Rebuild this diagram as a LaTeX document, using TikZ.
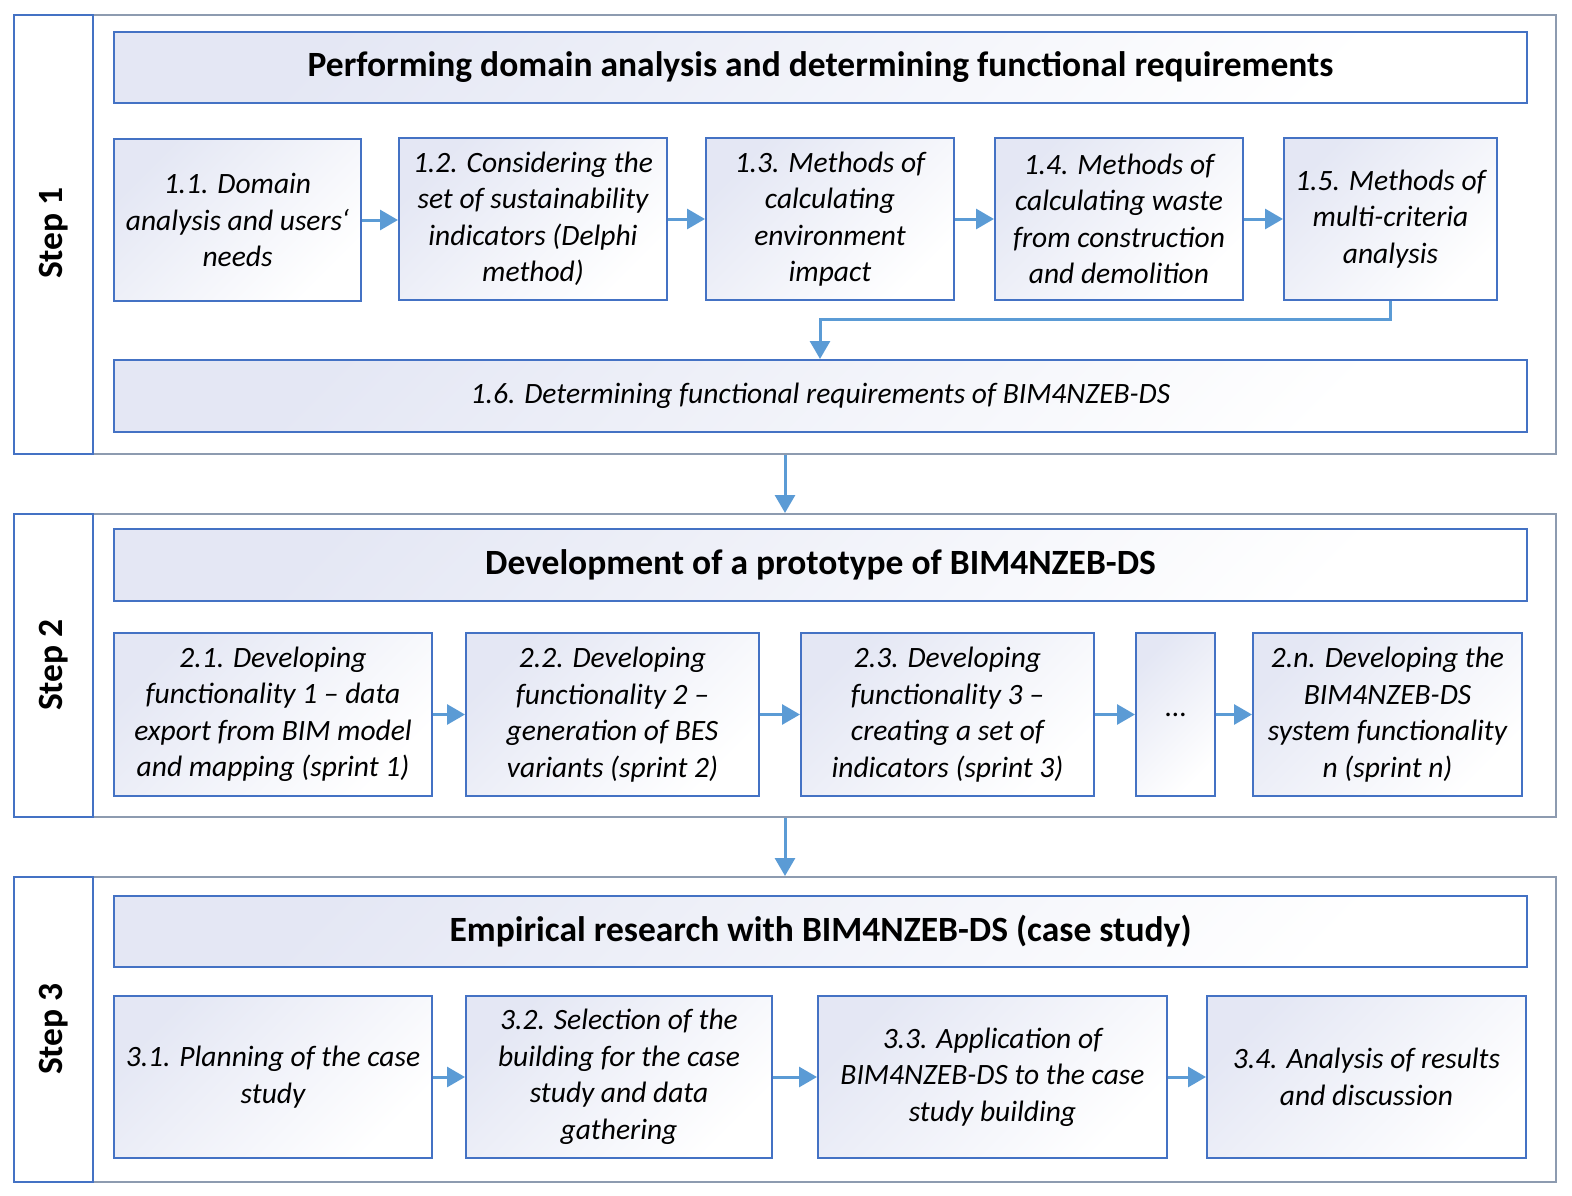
\documentclass[tikz,border=0pt]{standalone}
\usepackage{fontspec}
\setmainfont{Carlito}
\usetikzlibrary{arrows.meta,calc}
\definecolor{boxblue}{HTML}{4472C4}
\definecolor{arrblue}{HTML}{5B9BD5}
\definecolor{framegray}{HTML}{8D9BB0}
\definecolor{boxfill}{HTML}{E4E7F4}
\begin{document}
\begin{tikzpicture}[x=1pt,y=-1pt,
  frame/.style={draw=framegray, line width=2pt, rectangle, anchor=north west, inner sep=0pt},
  stepcol/.style={draw=boxblue, line width=2.4pt, rectangle, anchor=north west, inner sep=0pt},
  steplabel/.style={rotate=90, font=\fontsize{35.5}{40}\selectfont\bfseries},
  box/.style={draw=boxblue, line width=2pt, rectangle, shading=axis, top color=boxfill, bottom color=white, shading angle=45,
     align=center, inner sep=2pt, font=\fontsize{29.5}{36.5}\selectfont\itshape},
  hdr/.style={box, minimum width=1413pt, font=\fontsize{35.5}{40}\selectfont\bfseries},
  arr/.style={draw=arrblue, line width=3pt, -{Triangle[length=18pt,width=20pt]}}
]
\useasboundingbox (0,0) rectangle (1572,1196);

% frames
\node[frame, minimum width=1542pt, minimum height=439pt] (f1) at (13,14) {};
\node[stepcol, minimum width=79pt, minimum height=439pt] (s1) at (13,14) {};
\node[steplabel] (l1) at (54,233) {Step 1};

\node[frame, minimum width=1542pt, minimum height=303pt] (f2) at (13,513) {};
\node[stepcol, minimum width=79pt, minimum height=303pt] (s2) at (13,513) {};
\node[steplabel] (l2) at (54,665) {Step 2};

\node[frame, minimum width=1542pt, minimum height=305pt] (f3) at (13,876) {};
\node[stepcol, minimum width=79pt, minimum height=305pt] (s3) at (13,876) {};
\node[steplabel] (l3) at (54,1029) {Step 3};

% step 1
\node[hdr, minimum height=71pt] (h1) at (820.5,67.5) {Performing domain analysis and determining functional requirements};
\node[box, minimum width=247pt, minimum height=162pt] (b11) at (237.5,220) {1.1. Domain\\analysis and users‘\\needs};
\node[box, minimum width=268pt, minimum height=162pt] (b12) at (533,219) {1.2. Considering the\\set of sustainability\\indicators (Delphi\\method)};
\node[box, minimum width=248pt, minimum height=162pt] (b13) at (830,219) {1.3. Methods of\\calculating\\environment\\impact};
\node[box, minimum width=248pt, minimum height=162pt] (b14) at (1119,219) {1.4. Methods of\\calculating waste\\from construction\\and demolition};
\node[box, minimum width=213pt, minimum height=162pt] (b15) at (1390.5,219) {1.5. Methods of\\multi-criteria\\analysis};
\node[box, minimum width=1413pt, minimum height=72pt] (b16) at (820.5,396) {1.6. Determining functional requirements of BIM4NZEB-DS};

\draw[arr] (b11.east) -- (b11.east -| b12.west);
\draw[arr] (b12.east) -- (b13.west);
\draw[arr] (b13.east) -- (b14.west);
\draw[arr] (b14.east) -- (b15.west);
\coordinate (e1) at (820,319);
\draw[arr] (b15.south) |- (e1) -- (e1 |- b16.north);

% step 2
\node[hdr, minimum height=72pt] (h2) at (820.5,565) {Development of a prototype of BIM4NZEB-DS};
\node[box, minimum width=318pt, minimum height=163pt] (b21) at (273,714.5) {2.1. Developing\\functionality 1 -- data\\export from BIM model\\and mapping (sprint 1)};
\node[box, minimum width=293pt, minimum height=163pt] (b22) at (612.5,714.5) {2.2. Developing\\functionality 2 --\\generation of BES\\variants (sprint 2)};
\node[box, minimum width=293pt, minimum height=163pt] (b23) at (947.5,714.5) {2.3. Developing\\functionality 3 --\\creating a set of\\indicators (sprint 3)};
\node[box, minimum width=79pt, minimum height=163pt, font=\fontsize{29.5}{36.5}\selectfont] (b2d) at (1175.5,714.5) {…};
\node[box, minimum width=269pt, minimum height=163pt] (b2n) at (1387.5,714.5) {2.n. Developing the\\BIM4NZEB-DS\\system functionality\\n (sprint n)};

\draw[arr] (b21.east) -- (b22.west);
\draw[arr] (b22.east) -- (b23.west);
\draw[arr] (b23.east) -- (b2d.west);
\draw[arr] (b2d.east) -- (b2n.west);

% step 3
\node[hdr, minimum height=71pt] (h3) at (820.5,931.5) {Empirical research with BIM4NZEB-DS (case study)};
\node[box, minimum width=318pt, minimum height=162pt] (b31) at (273,1077) {3.1. Planning of the case\\study};
\node[box, minimum width=306pt, minimum height=162pt] (b32) at (619,1077) {3.2. Selection of the\\building for the case\\study and data\\gathering};
\node[box, minimum width=349pt, minimum height=162pt] (b33) at (992.5,1077) {3.3. Application of\\BIM4NZEB-DS to the case\\study building};
\node[box, minimum width=319pt, minimum height=162pt] (b34) at (1366.5,1077) {3.4. Analysis of results\\and discussion};

\draw[arr] (b31.east) -- (b32.west);
\draw[arr] (b32.east) -- (b33.west);
\draw[arr] (b33.east) -- (b34.west);

% between steps
\coordinate (ax) at (785,0);
\draw[arr] (ax |- f1.south) -- (ax |- f2.north);
\draw[arr] (ax |- f2.south) -- (ax |- f3.north);
\end{tikzpicture}
\end{document}
